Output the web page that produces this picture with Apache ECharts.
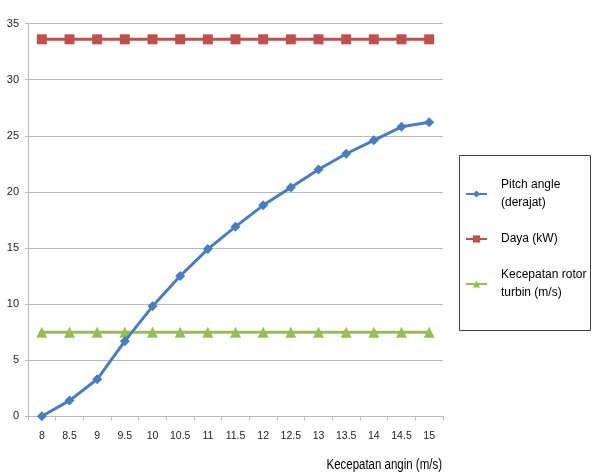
<!DOCTYPE html>
<html>
<head>
<meta charset="utf-8">
<script src="https://cdn.jsdelivr.net/npm/echarts@6/dist/echarts.min.js"></script>
<style>
  html, body { margin: 0; padding: 0; background: #fff; }
  #chart { width: 595px; height: 476px; }
</style>
</head>
<body>
<div id="chart"></div>
<script>
// Wind speed categories (m/s)
var windSpeeds = ['8', '8.5', '9', '9.5', '10', '10.5', '11', '11.5', '12', '12.5', '13', '13.5', '14', '14.5', '15'];
// Pitch angle (degrees)
var pitchAngle = [0, 1.4, 3.3, 6.7, 9.8, 12.5, 14.9, 16.9, 18.8, 20.4, 22.0, 23.4, 24.6, 25.8, 26.2];
// Power (kW)
var daya = [33.6, 33.6, 33.6, 33.6, 33.6, 33.6, 33.6, 33.6, 33.6, 33.6, 33.6, 33.6, 33.6, 33.6, 33.6];
// Turbine rotor speed
var rotorSpeed = [7.5, 7.5, 7.5, 7.5, 7.5, 7.5, 7.5, 7.5, 7.5, 7.5, 7.5, 7.5, 7.5, 7.5, 7.5];
// Y axis ticks
var yMin = 0, yMax = 35, yStep = 5;

var sans = '"Liberation Sans", Arial, sans-serif';
var gridGray = '#b9b9b9';

var chart = echarts.init(document.getElementById('chart'), null, { renderer: 'canvas' });

chart.setOption({
  animation: false,
  backgroundColor: '#ffffff',
  grid: { left: 28, right: 152, top: 23.6, bottom: 59.7, containLabel: false },
  xAxis: {
    type: 'category',
    data: windSpeeds,
    boundaryGap: true,
    axisLine: { show: true, lineStyle: { color: gridGray, width: 1 } },
    axisTick: { show: true, length: 4, interval: 0, lineStyle: { color: gridGray } },
    axisLabel: { color: '#222', fontFamily: sans, fontSize: 10.5, margin: 14, interval: 0 },
    splitLine: { show: false }
  },
  yAxis: {
    type: 'value',
    min: yMin,
    max: yMax,
    interval: yStep,
    axisLine: { show: true, lineStyle: { color: gridGray, width: 1 } },
    axisTick: { show: true, length: 3, lineStyle: { color: gridGray } },
    axisLabel: { color: '#222', fontFamily: sans, fontSize: 11, margin: 9 },
    splitLine: { show: true, lineStyle: { color: gridGray, width: 1.2 } }
  },
  legend: {
    orient: 'vertical',
    left: 465,
    top: 176,
    itemWidth: 21,
    itemHeight: 9,
    itemGap: 18,
    padding: 0,
    textStyle: { color: '#000', fontFamily: sans, fontSize: 12, lineHeight: 18, padding: [0, 0, 0, 9] },
    data: ['Pitch angle\n(derajat)', 'Daya (kW)', 'Kecepatan rotor\nturbin (m/s)']
  },
  graphic: [
    {
      type: 'rect',
      shape: { x: 459.5, y: 155.5, width: 131, height: 175 },
      style: { fill: 'none', stroke: '#3f3f3f', lineWidth: 1 },
      silent: true
    },
    {
      type: 'text',
      x: 442,
      y: 465,
      scaleX: 0.82,
      style: {
        text: 'Kecepatan angin (m/s)',
        fill: '#000',
        font: '14px ' + sans,
        textAlign: 'right',
        textVerticalAlign: 'middle'
      }
    }
  ],
  series: [
    {
      name: 'Pitch angle\n(derajat)',
      type: 'line',
      data: pitchAngle,
      symbol: 'diamond',
      symbolSize: 10,
      lineStyle: { color: '#4a7ebb', width: 3 },
      itemStyle: { color: '#4a7ebb' },
      z: 4
    },
    {
      name: 'Daya (kW)',
      type: 'line',
      data: daya,
      symbol: 'rect',
      symbolSize: 10,
      lineStyle: { color: '#c0504d', width: 3 },
      itemStyle: { color: '#c0504d' },
      z: 3
    },
    {
      name: 'Kecepatan rotor\nturbin (m/s)',
      type: 'line',
      data: rotorSpeed,
      symbol: 'triangle',
      symbolSize: 11,
      lineStyle: { color: '#9bbb59', width: 3 },
      itemStyle: { color: '#9bbb59' },
      z: 3
    }
  ]
});
</script>
</body>
</html>
